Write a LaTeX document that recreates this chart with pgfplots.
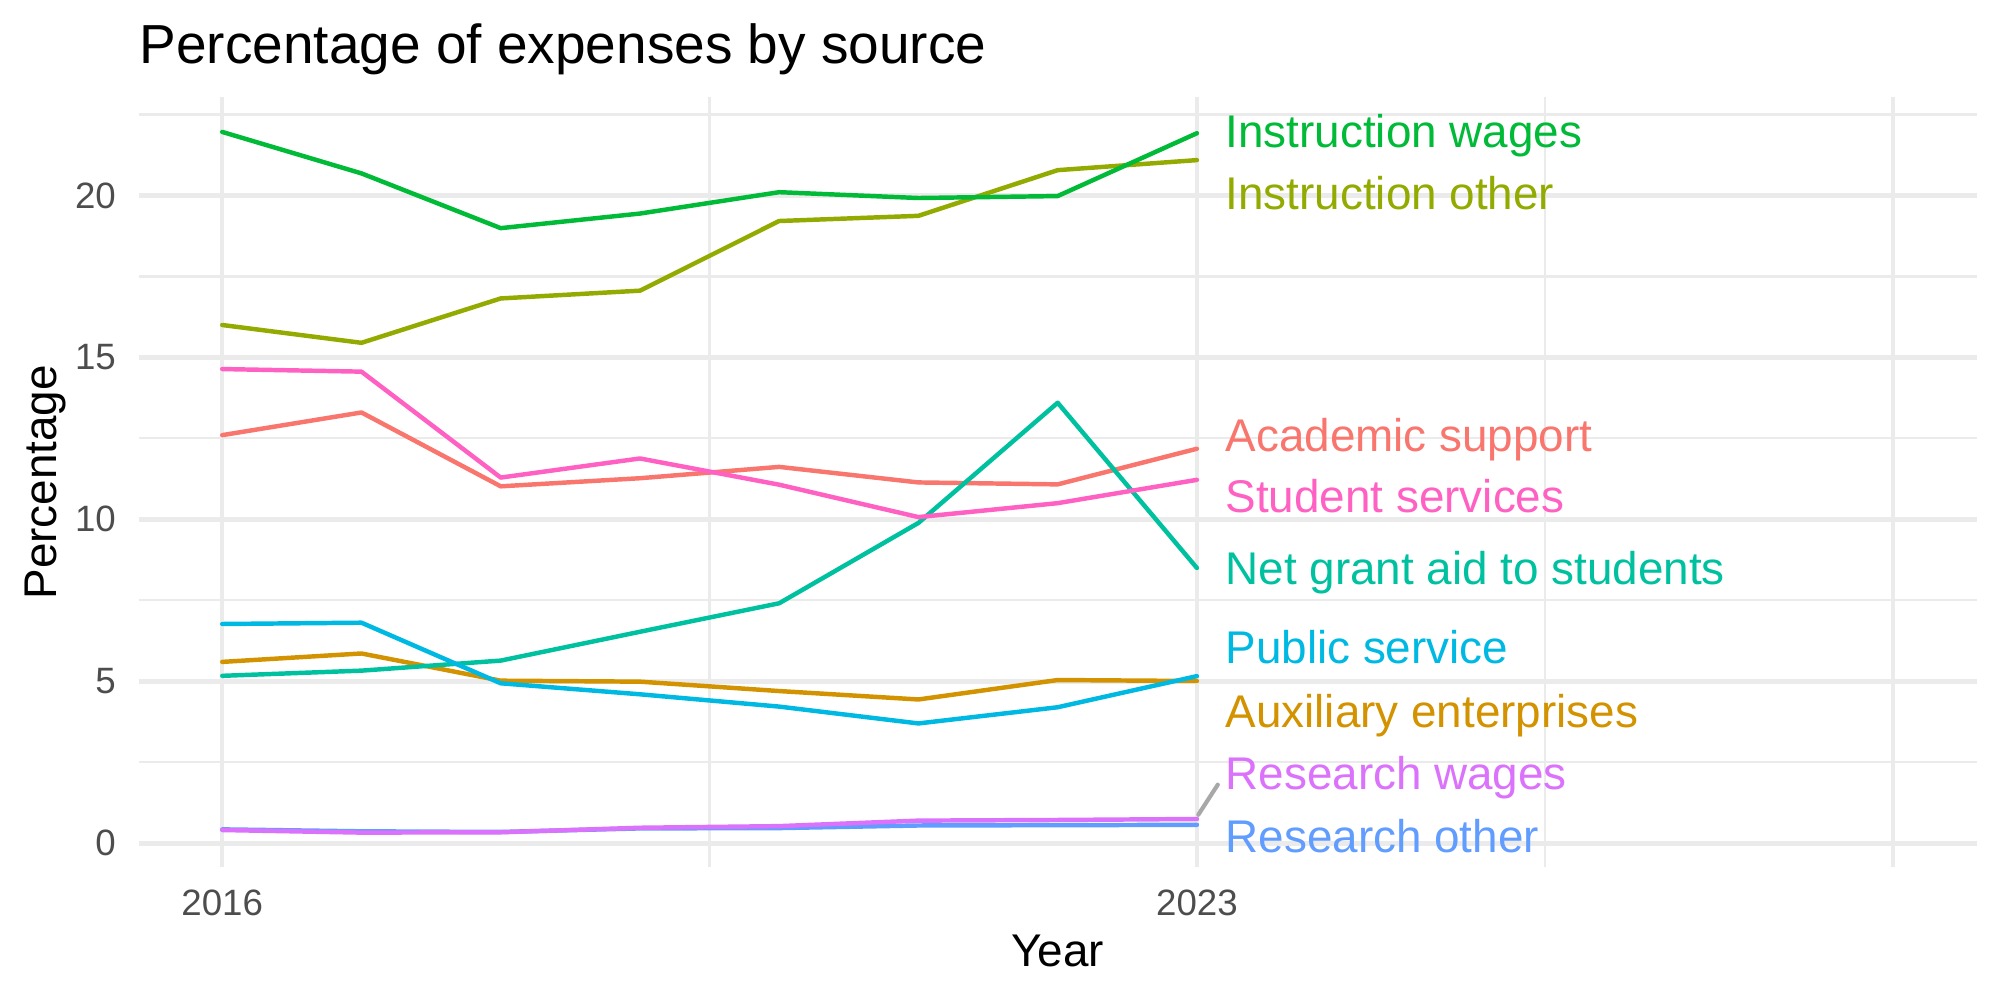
\documentclass[border=0pt]{standalone}
\usepackage{pgfplots}
\pgfplotsset{compat=1.18}
\usepackage{pgfplotstable}
\usepackage{fontspec}
\setmainfont{Liberation Sans}

% hue palette for the nine expense sources
\definecolor{cAcad}{HTML}{F8766D}
\definecolor{cAux}{HTML}{D39200}
\definecolor{cInstO}{HTML}{93AA00}
\definecolor{cInstW}{HTML}{00BA38}
\definecolor{cGrant}{HTML}{00C19F}
\definecolor{cPub}{HTML}{00B9E3}
\definecolor{cResO}{HTML}{619CFF}
\definecolor{cResW}{HTML}{DB72FB}
\definecolor{cStud}{HTML}{FF61C3}
\definecolor{gridgrey}{HTML}{EBEBEB}
\definecolor{ticktext}{HTML}{4D4D4D}
\definecolor{segment}{HTML}{A8A8A8}

% percentage of expenses, by year and source
\pgfplotstableread{
year acad aux insto instw grant pub reso resw stud
2016 12.60 5.60 16.00 21.96 5.17 6.77 0.43 0.41 14.64
2017 13.30 5.86 15.45 20.68 5.33 6.81 0.37 0.33 14.56
2018 11.02 5.02 16.82 18.99 5.64 4.94 0.35 0.34 11.29
2019 11.27 4.99 17.06 19.44 6.53 4.60 0.46 0.48 11.88
2020 11.62 4.70 19.21 20.10 7.41 4.22 0.47 0.53 11.07
2021 11.14 4.44 19.37 19.92 9.89 3.70 0.55 0.70 10.07
2022 11.08 5.04 20.78 19.98 13.60 4.20 0.56 0.72 10.50
2023 12.18 5.01 21.09 21.92 8.50 5.16 0.57 0.75 11.22
}\expenses

\begin{document}
\begin{tikzpicture}
\path[use as bounding box] (-33.29pt,-31.85pt) rectangle ++(480pt,240pt);
\begin{axis}[
  at={(0,0)}, anchor=south west,
  scale only axis,
  width=441.1pt, height=184.8pt,
  xmin=2015.4, xmax=2028.6,
  ymin=-0.74, ymax=23.03,
  clip=false,
  axis line style={draw=none},
  tick style={draw=none},
  major tick length=0pt, minor tick length=0pt,
  xtick={2016,2023,2028},
  xticklabels={2016,2023,{}},
  minor xtick={2019.5,2025.5},
  ytick={0,5,10,15,20},
  yticklabels={0,5,10,15,20},
  minor ytick={2.5,7.5,12.5,17.5,22.5},
  grid=both,
  major grid style={draw=gridgrey, line width=1.07pt},
  minor grid style={draw=gridgrey, line width=0.53pt},
  /pgf/number format/assume math mode=true,
  ticklabel style={font=\fontsize{8.8}{10}\selectfont, text=ticktext},
  xticklabel style={anchor=north, inner sep=0pt, yshift=-5.3pt},
  yticklabel style={anchor=east, inner sep=0pt, xshift=-5.3pt},
  every axis plot/.append style={line width=1.07pt, line join=round, line cap=round},
  label font/.style={},
]
\addplot[cAcad] table[x=year, y=acad] {\expenses};
\addplot[cAux] table[x=year, y=aux] {\expenses};
\addplot[cInstO] table[x=year, y=insto] {\expenses};
\addplot[cInstW] table[x=year, y=instw] {\expenses};
\addplot[cGrant] table[x=year, y=grant] {\expenses};
\addplot[cPub] table[x=year, y=pub] {\expenses};
\addplot[cResO] table[x=year, y=reso] {\expenses};
\addplot[cResW] table[x=year, y=resw] {\expenses};
\addplot[cStud] table[x=year, y=stud] {\expenses};

% leader from the research wages label to its line
\addplot[segment, line width=1pt] coordinates {(2023.01,0.88) (2023.15,1.81)};

% direct labels at the end of each line
\begin{scope}[every node/.style={anchor=base west, inner sep=0pt, font=\fontsize{11}{13}\selectfont}]
\node[text=cInstW] at (axis cs:2023.2,21.47) {Instruction wages};
\node[text=cInstO] at (axis cs:2023.2,19.57) {Instruction other};
\node[text=cAcad]  at (axis cs:2023.2,12.08) {Academic support};
\node[text=cStud]  at (axis cs:2023.2,10.20) {Student services};
\node[text=cGrant] at (axis cs:2023.2,7.98) {Net grant aid to students};
\node[text=cPub]   at (axis cs:2023.2,5.54) {Public service};
\node[text=cAux]   at (axis cs:2023.2,3.58) {Auxiliary enterprises};
\node[text=cResW]  at (axis cs:2023.2,1.66) {Research wages};
\node[text=cResO]  at (axis cs:2023.2,-0.27) {Research other};
\end{scope}
\end{axis}

% titles
\node[anchor=base west, inner sep=0pt, font=\fontsize{13.2}{15}\selectfont] at (0pt,192.85pt) {Percentage of expenses by source};
\node[anchor=base, inner sep=0pt, font=\fontsize{11}{13}\selectfont] at (220.55pt,-23.9pt) {Year};
\node[anchor=base, rotate=90, inner sep=0pt, font=\fontsize{11}{13}\selectfont] at (-19.8pt,92.4pt) {Percentage};
\end{tikzpicture}
\end{document}
